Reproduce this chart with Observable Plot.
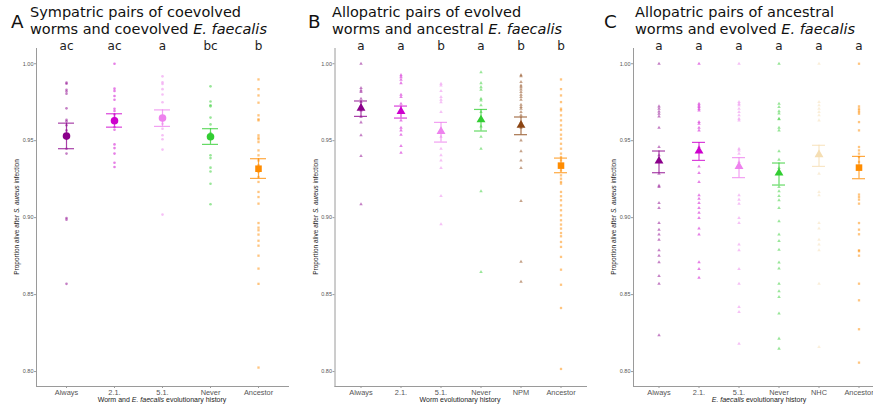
<!DOCTYPE html>
<html>
<head>
<meta charset="utf-8">
<script src="https://cdn.jsdelivr.net/npm/d3@7"></script>
<script src="https://cdn.jsdelivr.net/npm/@observablehq/plot@0.6"></script>
<style>
  html, body { margin: 0; padding: 0; background: #ffffff; overflow: hidden; }
  #root { position: relative; width: 873px; height: 412px; overflow: hidden; }
  .panel { position: absolute; top: 0; }
  .panel svg { max-width: none !important; }
  .tag { position: absolute; font-family: "DejaVu Sans", sans-serif; font-size: 18.3px; line-height: 1; color: #111; }
  .title { position: absolute; font-family: "DejaVu Sans", sans-serif; font-size: 14.5px; line-height: 17.3px; color: #111; white-space: nowrap; }
  .xtitle { position: absolute; font-family: "Liberation Sans", Arial, sans-serif; font-size: 7px; color: #222; white-space: nowrap; transform: translateX(-50%); }
  .ytitle { position: absolute; font-family: "Liberation Sans", Arial, sans-serif; font-size: 6.5px; color: #222; white-space: nowrap; transform: translate(-50%, -50%) rotate(-90deg); }
</style>
</head>
<body>
<div id="root"></div>
<script>
// ---------- Categories ----------
const catsA = ["Always", "2.1.", "5.1.", "Never", "Ancestor"];
const catsB = ["Always", "2.1.", "5.1.", "Never", "NPM", "Ancestor"];
const catsC = ["Always", "2.1.", "5.1.", "Never", "NHC", "Ancestor"];

const groupColors = {
  "Always": "#8B008B", "2.1.": "#CD00CD", "5.1.": "#EE82EE", "Never": "#32CD32",
  "NPM": "#8B4513", "NHC": "#F5DEB3", "Ancestor": "#FF8C00"
};

// ---------- Significance letters ----------
const lettersA = ["ac", "ac", "a", "bc", "b"];
const lettersB = ["a", "a", "b", "a", "b", "b"];
const lettersC = ["a", "a", "a", "a", "a", "a"];

// ---------- Y ticks ----------
const yTicks = [0.80, 0.85, 0.90, 0.95, 1.00];

// ---------- Panel A raw values ----------
const aAlways = [0.9877, 0.987, 0.9831, 0.982, 0.9805, 0.971, 0.9636, 0.9626, 0.960, 0.9567, 0.9448, 0.9416, 0.8998, 0.8987, 0.857];
const a21 = [1.0, 0.9838, 0.9823, 0.979, 0.9766, 0.9708, 0.9693, 0.967, 0.965, 0.9589, 0.9571, 0.9476, 0.9452, 0.9416, 0.9357, 0.9329];
const a51 = [0.9918, 0.988, 0.9868, 0.9835, 0.980, 0.975, 0.9654, 0.9632, 0.961, 0.9578, 0.9535, 0.9509, 0.9442, 0.902];
const aNever = [0.9853, 0.9755, 0.973, 0.9723, 0.965, 0.9606, 0.955, 0.9405, 0.9387, 0.9325, 0.930, 0.922, 0.9087];
const aAnc = [0.9898, 0.9835, 0.9794, 0.9747, 0.9665, 0.9639, 0.9632, 0.9535, 0.952, 0.9509, 0.9491, 0.9437, 0.9405, 0.9372, 0.934, 0.9297, 0.9264, 0.9232, 0.9167, 0.9134, 0.9091, 0.8965, 0.8935, 0.8918, 0.889, 0.885, 0.8818, 0.8753, 0.8669, 0.857, 0.8026];
const aMean = [0.953, 0.963, 0.9647, 0.9526, 0.9318];
const aHi = [0.9614, 0.9675, 0.970, 0.9578, 0.9383];
const aLo = [0.9448, 0.9588, 0.9593, 0.9476, 0.9255];

// ---------- Panel B raw values ----------
const bAlways = [1.0, 0.9842, 0.9827, 0.9816, 0.9773, 0.9751, 0.9729, 0.9697, 0.9654, 0.9619, 0.9535, 0.94, 0.9087];
const b21 = [0.9926, 0.9913, 0.9896, 0.9874, 0.9799, 0.9784, 0.974, 0.9632, 0.9584, 0.9567, 0.9539, 0.9465, 0.9422];
const b51 = [0.987, 0.9859, 0.9823, 0.9784, 0.9766, 0.975, 0.9686, 0.9526, 0.9448, 0.9405, 0.9372, 0.9322, 0.9141, 0.8957];
const bNever = [0.9944, 0.9874, 0.9848, 0.9831, 0.9773, 0.9762, 0.973, 0.9686, 0.9593, 0.9526, 0.9448, 0.9171, 0.8647];
const bNPM = [0.9926, 0.9918, 0.9881, 0.9859, 0.9848, 0.9833, 0.9816, 0.9799, 0.9784, 0.9766, 0.9734, 0.9719, 0.9708, 0.9686, 0.9665, 0.9621, 0.9584, 0.9502, 0.9431, 0.9372, 0.9323, 0.9108, 0.8714, 0.8584];
const bAnc = [0.9898, 0.9835, 0.9794, 0.9751, 0.9708, 0.9697, 0.9665, 0.9632, 0.96, 0.9571, 0.9539, 0.9513, 0.948, 0.9448, 0.9416, 0.9394, 0.9372, 0.934, 0.9307, 0.9275, 0.9253, 0.9232, 0.9221, 0.9167, 0.9139, 0.9113, 0.908, 0.9048, 0.9015, 0.8983, 0.8955, 0.8929, 0.89, 0.8879, 0.8842, 0.881, 0.8745, 0.8662, 0.8564, 0.8413, 0.8017];
const bMean = [0.9712, 0.969, 0.956, 0.9636, 0.960, 0.9338];
const bHi = [0.9758, 0.9725, 0.9619, 0.9703, 0.9654, 0.9387];
const bLo = [0.9658, 0.9647, 0.9491, 0.9563, 0.9539, 0.9292];

// ---------- Panel C raw values ----------
const cAlways = [1.0, 0.9723, 0.9708, 0.969, 0.9675, 0.9658, 0.9584, 0.9459, 0.9405, 0.9286, 0.9208, 0.9199, 0.9095, 0.9063, 0.8965, 0.8922, 0.889, 0.8857, 0.8788, 0.8753, 0.871, 0.8621, 0.8571, 0.8236];
const c21 = [1.0, 0.974, 0.9729, 0.9719, 0.9708, 0.9697, 0.9621, 0.961, 0.9584, 0.9567, 0.9459, 0.9437, 0.9333, 0.929, 0.9232, 0.9145, 0.9123, 0.9095, 0.9063, 0.9032, 0.8998, 0.8929, 0.889, 0.871, 0.8667, 0.861];
const c51 = [1.0, 0.9751, 0.974, 0.973, 0.9708, 0.9686, 0.9665, 0.9643, 0.9632, 0.9448, 0.9437, 0.9416, 0.9362, 0.9145, 0.9117, 0.9091, 0.8998, 0.8965, 0.8825, 0.8788, 0.8667, 0.8571, 0.842, 0.8387, 0.8181];
const cNever = [1.0, 0.974, 0.9719, 0.9691, 0.9677, 0.9643, 0.9639, 0.9584, 0.9567, 0.9432, 0.9377, 0.9322, 0.9297, 0.92, 0.9171, 0.9141, 0.9113, 0.9063, 0.8976, 0.889, 0.8848, 0.8792, 0.8708, 0.8669, 0.8571, 0.8522, 0.8485, 0.8377, 0.8214, 0.8149];
const cNHC = [1.0, 0.9751, 0.973, 0.9708, 0.9686, 0.9665, 0.9632, 0.9286, 0.9167, 0.9145, 0.8965, 0.8929, 0.8857, 0.8825, 0.8788, 0.8571, 0.816];
const cAnc = [1.0, 0.9723, 0.9708, 0.9697, 0.9686, 0.9675, 0.9621, 0.9567, 0.9459, 0.9437, 0.9416, 0.9394, 0.9362, 0.915, 0.9134, 0.9117, 0.9091, 0.8965, 0.8922, 0.8892, 0.8788, 0.8782, 0.8753, 0.8571, 0.8463, 0.8275, 0.8058];
const cMean = [0.9368, 0.9433, 0.9333, 0.929, 0.9409, 0.9325];
const cHi = [0.9433, 0.9489, 0.939, 0.9355, 0.947, 0.9398];
const cLo = [0.9292, 0.9372, 0.926, 0.9212, 0.9333, 0.9253];

// ---------- Panel definitions ----------
const panels = [
  { tag: "A", left: 0, width: 290, marginLeft: 36, marginRight: 2,
    tagX: 11, titleX: 30, titleLines: ["Sympatric pairs of coevolved", "worms and coevolved <i>E. faecalis</i>"],
    xTitle: "Worm and <i>E. faecalis</i> evolutionary history", xTitleX: 162, yTitleX: 16,
    cats: catsA, letters: lettersA, raw: [aAlways, a21, a51, aNever, aAnc],
    mean: aMean, hi: aHi, lo: aLo, evolvedSymbol: "circle", rawSymbol: "circle" },
  { tag: "B", left: 290, width: 296, marginLeft: 44.5, marginRight: 0,
    tagX: 308, titleX: 332, titleLines: ["Allopatric pairs of evolved", "worms and ancestral <i>E. faecalis</i>"],
    xTitle: "Worm evolutionary history", xTitleX: 460, yTitleX: 315,
    cats: catsB, letters: lettersB, raw: [bAlways, b21, b51, bNever, bNPM, bAnc],
    mean: bMean, hi: bHi, lo: bLo, evolvedSymbol: "triangle", rawSymbol: "triangle" },
  { tag: "C", left: 583, width: 301, marginLeft: 50, marginRight: 0,
    tagX: 604, titleX: 635, titleLines: ["Allopatric pairs of ancestral", "worms and evolved <i>E. faecalis</i>"],
    xTitle: "<i>E. faecalis</i> evolutionary history", xTitleX: 759, yTitleX: 613,
    cats: catsC, letters: lettersC, raw: [cAlways, c21, c51, cNever, cNHC, cAnc],
    mean: cMean, hi: cHi, lo: cLo, evolvedSymbol: "triangle", rawSymbol: "triangle" }
];

const root = document.getElementById("root");
const H = 412, MT = 48, MB = 26;

for (const p of panels) {
  const rawRows = [];
  p.cats.forEach((c, i) => p.raw[i].forEach(v => rawRows.push({cat: c, v})));
  const sumRows = p.cats.map((c, i) => ({cat: c, mean: p.mean[i], hi: p.hi[i], lo: p.lo[i], letter: p.letters[i]}));
  const isAnc = d => d.cat === "Ancestor";
  const notAnc = d => d.cat !== "Ancestor";

  const chart = Plot.plot({
    width: p.width, height: H,
    marginLeft: p.marginLeft, marginRight: p.marginRight, marginTop: MT, marginBottom: MB,
    style: {background: "transparent", fontFamily: "Liberation Sans, Arial, sans-serif", overflow: "visible", maxWidth: "none"},
    x: {type: "band", domain: p.cats, paddingInner: 0.67, paddingOuter: 0.435, align: 0.5, label: null},
    y: {domain: [0.7903, 1.0099], label: null},
    color: {domain: p.cats, range: p.cats.map(c => groupColors[c])},
    marks: [
      Plot.frame({anchor: "left", stroke: "#9a9a9a", strokeWidth: 1}),
      Plot.frame({anchor: "bottom", stroke: "#9a9a9a", strokeWidth: 1}),
      Plot.axisY({ticks: yTicks, tickFormat: d3.format(".2f"), tickSize: 2, tickPadding: 1,
        fontSize: 5.5, fill: "#555", stroke: "#9a9a9a", label: null}),
      Plot.axisX({tickSize: 2, tickPadding: 1.5, fontSize: 7.4, fill: "#555", stroke: "#9a9a9a", label: null}),
      // raw observations
      Plot.dot(rawRows.filter(notAnc), {x: "cat", y: "v", fill: "cat", symbol: p.rawSymbol, r: 1.3, fillOpacity: 0.5, stroke: null}),
      Plot.dot(rawRows.filter(isAnc), {x: "cat", y: "v", fill: "cat", symbol: "square", r: 1.3, fillOpacity: 0.5, stroke: null}),
      // error bars
      Plot.ruleX(sumRows, {x: "cat", y1: "lo", y2: "hi", stroke: "cat", strokeWidth: 1.2, strokeOpacity: 0.75}),
      Plot.tickY(sumRows, {x: "cat", y: "hi", stroke: "cat", strokeWidth: 1.2, strokeOpacity: 0.75}),
      Plot.tickY(sumRows, {x: "cat", y: "lo", stroke: "cat", strokeWidth: 1.2, strokeOpacity: 0.75}),
      // means
      Plot.dot(sumRows.filter(notAnc), {x: "cat", y: "mean", fill: "cat", symbol: p.evolvedSymbol, r: p.evolvedSymbol === "circle" ? 3.8 : 3.3, stroke: null}),
      Plot.dot(sumRows.filter(isAnc), {x: "cat", y: "mean", fill: "cat", symbol: "square", r: 3.7, stroke: null}),
      // letters
      Plot.text(sumRows, {x: "cat", text: "letter", frameAnchor: "top", lineAnchor: "bottom", dy: 1.5,
        fontSize: 12, fill: "#222", fontFamily: "DejaVu Sans, sans-serif"})
    ]
  });
  const wrap = document.createElement("div");
  wrap.className = "panel";
  wrap.style.left = p.left + "px";
  wrap.style.width = p.width + "px";
  wrap.style.height = H + "px";
  wrap.appendChild(chart);
  root.appendChild(wrap);

  const tag = document.createElement("div");
  tag.className = "tag";
  tag.style.left = p.tagX + "px";
  tag.style.top = "12.8px";
  tag.textContent = p.tag;
  root.appendChild(tag);

  const title = document.createElement("div");
  title.className = "title";
  title.style.left = p.titleX + "px";
  title.style.top = "3.5px";
  title.innerHTML = p.titleLines.join("<br>");
  root.appendChild(title);

  const xt = document.createElement("div");
  xt.className = "xtitle";
  xt.style.left = p.xTitleX + "px";
  xt.style.top = "396px";
  xt.innerHTML = p.xTitle;
  root.appendChild(xt);

  const yt = document.createElement("div");
  yt.className = "ytitle";
  yt.style.left = p.yTitleX + "px";
  yt.style.top = (MT + (H - MT - MB) / 2) + "px";
  yt.innerHTML = "Proportion alive after <i>S. aureus</i> infection";
  root.appendChild(yt);
}
</script>
</body>
</html>
